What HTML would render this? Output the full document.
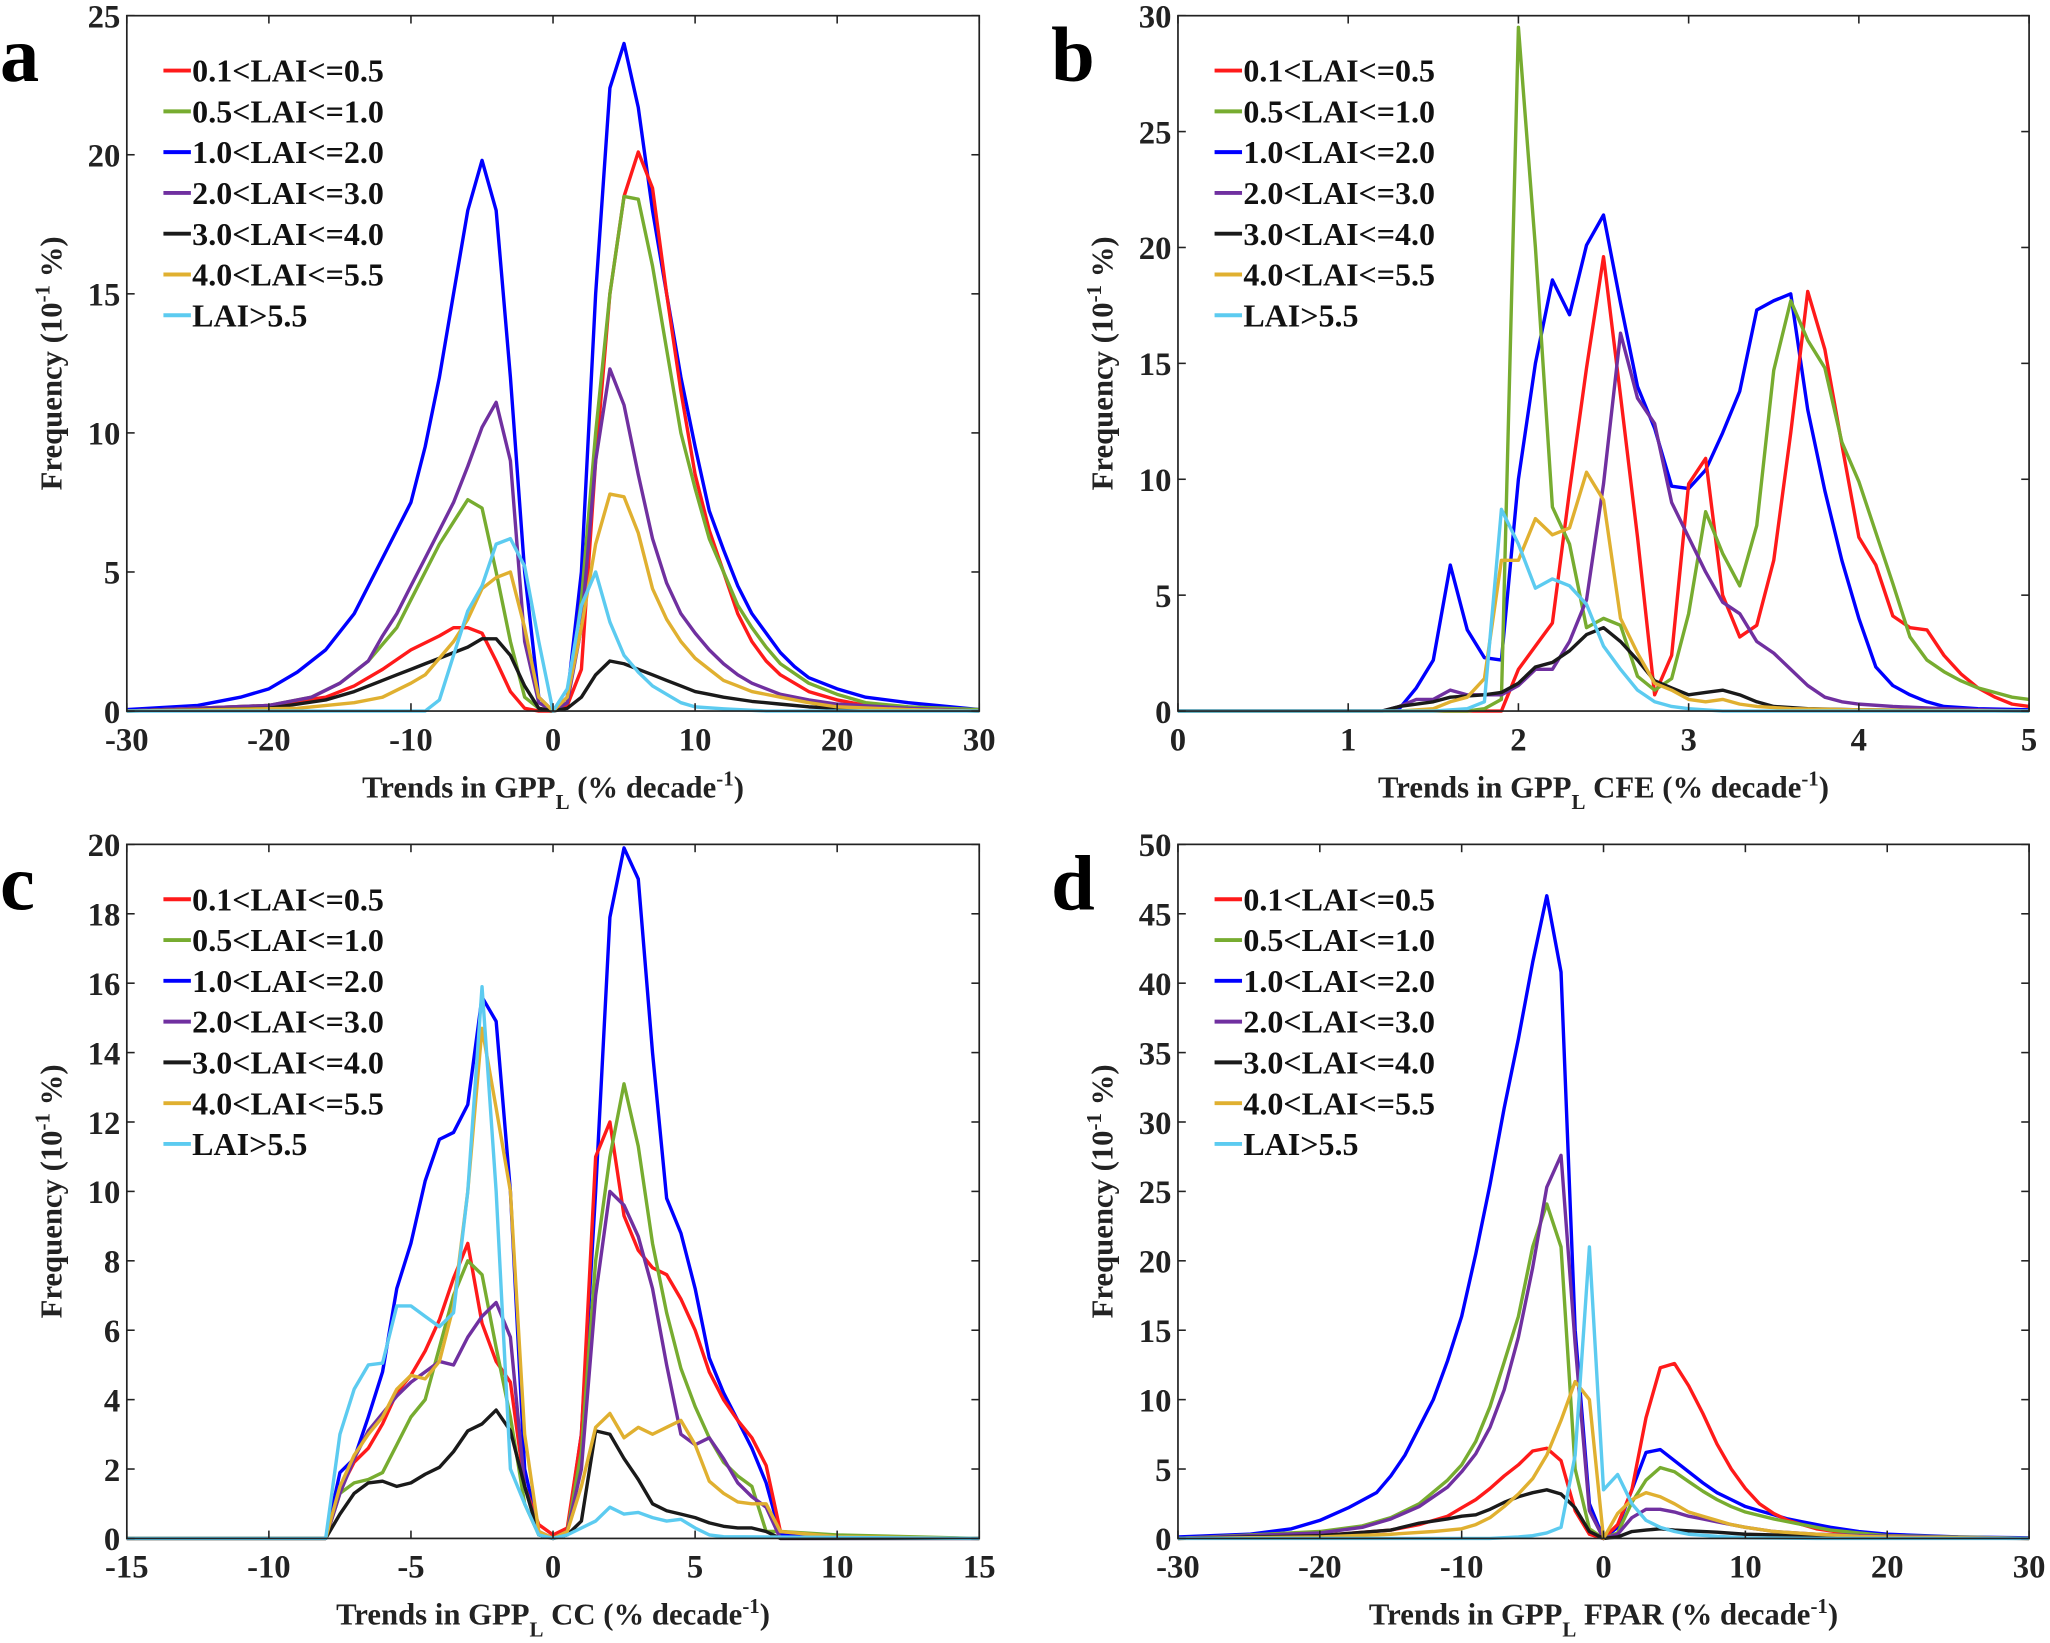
<!DOCTYPE html>
<html><head><meta charset="utf-8"><style>html,body{margin:0;padding:0;background:#fff}svg{display:block}svg text{font-family:"Liberation Serif","Times New Roman",serif;font-weight:bold}</style></head>
<body>
<svg id="s" xmlns="http://www.w3.org/2000/svg" width="2050" height="1643" viewBox="0 0 1568 1257" preserveAspectRatio="none"></svg>
<script>
const C={r:'#ff1a1a',g:'#77ac30',b:'#0000ff',p:'#7030a0',k:'#1a1a1a',o:'#e0b030',c:'#5ccbf0'};
const order=['r','g','b','p','k','o','c'];
const labels=['0.1<LAI<=0.5','0.5<LAI<=1.0','1.0<LAI<=2.0','2.0<LAI<=3.0','3.0<LAI<=4.0','4.0<LAI<=5.5','LAI>5.5'];
function P(s){return s.trim().split(/,\s*/).map(t=>t.split(':').map(Number));}
const panels=[
{L:'a',x0:97,x1:749,y0:12,y1:544,xr:[-30,30],yr:[0,25],xt:[-30,-20,-10,0,10,20,30],yt:[0,5,10,15,20,25],xl:'Trends in GPP',xs:' (% decade',
d:{b:P('-30:0.05,-25:0.2,-22:0.5,-20:0.8,-18:1.4,-16:2.2,-14:3.5,-12:5.5,-10:7.5,-9:9.5,-8:12,-7:15,-6:18,-5:19.8,-4:18,-3:12,-2:5,-1:0.5,0:0,1:0.5,2:5,3:15,4:22.4,5:24,6:21.7,7:18,8:15,9:12,10:9.5,11:7.2,12:5.8,13:4.5,14:3.5,15:2.8,16:2.1,17:1.6,18:1.2,20:0.8,22:0.5,25:0.3,30:0.05'),
r:P('-30:0,-20:0.2,-16:0.5,-14:0.9,-12:1.5,-10:2.2,-8:2.7,-7:3,-6:3,-5:2.8,-4:1.8,-3:0.7,-2:0.1,-1:0,0:0,1:0.2,2:1.5,3:9,4:15,5:18.5,6:20.1,7:18.8,8:15,9:11.5,10:8.5,11:6.5,12:5,13:3.5,14:2.5,15:1.8,16:1.3,18:0.7,20:0.4,22:0.2,25:0.1,30:0'),
g:P('-30:0,-20:0.2,-17:0.5,-15:1,-13:1.8,-11:3,-10:4,-9:5,-8:6,-7:6.8,-6:7.6,-5:7.3,-4:5,-3:2.5,-2:0.5,-1:0.1,0:0,1:0.3,2:4,3:10,4:15,5:18.5,6:18.4,7:16,8:13,9:10,10:8,11:6.2,12:5,13:3.8,14:3,15:2.3,16:1.7,18:1,20:0.6,22:0.3,25:0.15,30:0.05'),
p:P('-30:0,-20:0.2,-17:0.5,-15:1,-13:1.8,-12:2.7,-11:3.5,-10:4.5,-9:5.5,-8:6.5,-7:7.5,-6:8.8,-5:10.2,-4:11.1,-3:9,-2:2.5,-1:0.3,0:0,1:0.3,2:3,3:9,4:12.3,5:11,6:8.5,7:6.2,8:4.6,9:3.5,10:2.8,11:2.2,12:1.7,13:1.3,14:1,16:0.6,18:0.4,20:0.25,25:0.1,30:0'),
k:P('-30:0,-20:0.1,-16:0.4,-14:0.7,-12:1.1,-11:1.3,-10:1.5,-9:1.7,-8:1.9,-7:2.1,-6:2.3,-5:2.6,-4:2.6,-3:2,-2:0.9,-1:0.1,0:0,1:0.1,2:0.5,3:1.3,4:1.8,5:1.7,6:1.5,7:1.3,8:1.1,9:0.9,10:0.7,11:0.6,12:0.5,14:0.35,16:0.25,18:0.15,20:0.1,25:0.05,30:0'),
o:P('-30:0,-18:0.1,-14:0.3,-12:0.5,-10:1,-9:1.3,-8:1.9,-7:2.5,-6:3.3,-5:4.4,-4:4.8,-3:5,-2:3,-1:0.5,0:0,1:0.5,2:3,3:6,4:7.8,5:7.7,6:6.4,7:4.4,8:3.3,9:2.5,10:1.9,11:1.5,12:1.1,13:0.9,14:0.7,16:0.5,18:0.3,20:0.15,25:0.05,30:0'),
c:P('-30:0,-9:0,-8:0.4,-7:2,-6:3.6,-5:4.5,-4:6,-3:6.2,-2:5.2,-1:2.5,0:0,1:0.8,2:3.8,3:5,4:3.2,5:2,6:1.4,7:0.9,8:0.6,9:0.3,10:0.15,12:0.08,15:0,30:0')}},
{L:'b',x0:901,x1:1552,y0:12,y1:544,xr:[0,5],yr:[0,30],xt:[0,1,2,3,4,5],yt:[0,5,10,15,20,25,30],xl:'Trends in GPP',xs:' CFE (% decade',
d:{b:P('0:0,1.2:0,1.3:0.1,1.4:1,1.5:2.2,1.6:6.3,1.7:3.5,1.8:2.3,1.9:2.2,2.0:10,2.1:15,2.2:18.6,2.3:17.1,2.4:20.1,2.5:21.4,2.6:17.6,2.7:14,2.8:12.2,2.9:9.7,3.0:9.6,3.1:10.4,3.2:12,3.3:13.8,3.4:17.3,3.5:17.7,3.6:18,3.7:13,3.8:9.5,3.9:6.5,4.0:4,4.1:1.9,4.2:1.1,4.3:0.7,4.4:0.4,4.5:0.2,4.7:0.1,5:0.05'),
r:P('0:0,1.9:0,2.0:1.8,2.1:2.8,2.2:3.8,2.3:9.5,2.4:14.8,2.5:19.6,2.6:13.6,2.7:7.5,2.8:0.7,2.9:2.4,3.0:9.8,3.1:10.9,3.2:5,3.3:3.2,3.4:3.7,3.5:6.5,3.6:12,3.7:18.1,3.8:15.6,3.9:11.5,4.0:7.5,4.1:6.3,4.2:4.1,4.3:3.6,4.4:3.5,4.5:2.4,4.6:1.6,4.7:1,4.8:0.6,4.9:0.3,5:0.2'),
g:P('0:0,1.7:0,1.8:0.1,1.9:0.5,2.0:29.5,2.1:20,2.2:8.8,2.3:7.2,2.4:3.6,2.5:4,2.6:3.7,2.7:1.5,2.8:0.9,2.9:1.4,3.0:4.2,3.1:8.6,3.2:6.8,3.3:5.4,3.4:8,3.5:14.7,3.6:17.7,3.7:16,3.8:14.8,3.9:11.6,4.0:9.9,4.1:7.7,4.2:5.5,4.3:3.2,4.4:2.2,4.5:1.7,4.6:1.3,4.7:1,4.8:0.8,4.9:0.6,5:0.5'),
p:P('0:0,1.2:0,1.3:0.2,1.4:0.5,1.5:0.5,1.6:0.9,1.7:0.7,1.8:0.7,1.9:0.7,2.0:1.1,2.1:1.8,2.2:1.8,2.3:3,2.4:4.8,2.5:9.8,2.6:16.3,2.7:13.5,2.8:12.4,2.9:9,3.0:7.5,3.1:6,3.2:4.7,3.3:4.2,3.4:3,3.5:2.5,3.6:1.8,3.7:1.1,3.8:0.6,3.9:0.4,4.0:0.3,4.2:0.2,4.5:0.1,5:0'),
k:P('0:0,1.2:0,1.3:0.2,1.5:0.4,1.6:0.6,1.8:0.7,1.9:0.8,2.0:1.2,2.1:1.9,2.2:2.1,2.3:2.6,2.4:3.3,2.5:3.6,2.6:3,2.7:2.2,2.8:1.3,2.9:1,3.0:0.7,3.1:0.8,3.2:0.9,3.3:0.7,3.4:0.4,3.5:0.2,3.7:0.1,4:0.05,5:0'),
o:P('0:0,1.3:0,1.5:0.1,1.6:0.4,1.7:0.6,1.8:1.4,1.9:6.5,2.0:6.5,2.1:8.3,2.2:7.6,2.3:7.9,2.4:10.3,2.5:9.1,2.6:4,2.7:2.5,2.8:1.2,2.9:0.9,3.0:0.5,3.1:0.4,3.2:0.5,3.3:0.3,3.4:0.2,3.6:0.1,4:0.05,5:0'),
c:P('0:0,1.5:0,1.7:0.1,1.8:0.4,1.9:8.7,2.0:7.2,2.1:5.3,2.2:5.7,2.3:5.4,2.4:4.6,2.5:2.8,2.6:1.8,2.7:0.9,2.8:0.4,2.9:0.2,3.0:0.1,3.2:0,5:0')}},
{L:'c',x0:97,x1:749,y0:646,y1:1177,xr:[-15,15],yr:[0,20],xt:[-15,-10,-5,0,5,10,15],yt:[0,2,4,6,8,10,12,14,16,18,20],xl:'Trends in GPP',xs:' CC (% decade',
d:{b:P('-15:0,-8:0,-7.5:1.9,-7:2.3,-6.5:3.5,-6:4.8,-5.5:7.2,-5:8.5,-4.5:10.3,-4:11.5,-3.5:11.7,-3:12.5,-2.5:15.6,-2:14.9,-1.5:10,-1:2,-0.5:0.2,0:0,0.5:0.2,1:3,1.5:10,2:17.9,2.5:19.9,3:19,3.5:14,4:9.8,4.5:8.8,5:7.2,5.5:5.2,6:4.2,6.5:3.4,7:2.6,7.5:1.6,8:0.1,10:0.05,15:0'),
r:P('-15:0,-8:0,-7.5:1.4,-7:2.2,-6.5:2.6,-6:3.3,-5.5:4.2,-5:4.7,-4.5:5.4,-4:6.3,-3.5:7.5,-3:8.5,-2.5:6.2,-2:5.1,-1.5:4.5,-1:1.5,-0.5:0.4,0:0.1,0.5:0.3,1:3,1.5:11,2:12,2.5:9.3,3:8.3,3.5:7.8,4:7.6,4.5:6.9,5:6,5.5:4.8,6:4,6.5:3.4,7:2.9,7.5:2.1,8:0.2,10:0.05,15:0'),
g:P('-15:0,-8:0,-7.5:1.3,-7:1.6,-6.5:1.7,-6:1.9,-5.5:2.7,-5:3.5,-4.5:4,-4:5.5,-3.5:7,-3:8,-2.5:7.6,-2:5.5,-1.5:3.5,-1:1,-0.5:0.1,0:0,0.5:0.2,1:2.5,1.5:8,2:11,2.5:13.1,3:11.3,3.5:8.5,4:6.5,4.5:4.9,5:3.8,5.5:2.9,6:2.2,6.5:1.8,7:1.5,7.5:0.2,8:0.2,10:0.1,15:0'),
p:P('-15:0,-8:0,-7.5:1.3,-7:2.3,-6.5:3.1,-6:3.6,-5.5:4.1,-5:4.5,-4.5:4.8,-4:5.1,-3.5:5,-3:5.8,-2.5:6.4,-2:6.8,-1.5:5.8,-1:1.5,-0.5:0.2,0:0,0.5:0.2,1:2,1.5:7,2:10,2.5:9.6,3:8.7,3.5:7.2,4:5,4.5:3,5:2.7,5.5:2.9,6:2.3,6.5:1.6,7:1.2,7.5:0.9,8:0,15:0'),
k:P('-15:0,-8:0,-7.5:0.7,-7:1.3,-6.5:1.6,-6:1.65,-5.5:1.5,-5:1.6,-4.5:1.85,-4:2.05,-3.5:2.5,-3:3.1,-2.5:3.3,-2:3.7,-1.5:3.1,-1:1.5,-0.5:0.1,0:0,0.5:0.1,1:0.5,1.5:3.1,2:3,2.5:2.3,3:1.7,3.5:1,4:0.8,4.5:0.7,5:0.6,5.5:0.45,6:0.35,6.5:0.3,7:0.3,7.5:0.2,8:0,15:0'),
o:P('-15:0,-8:0,-7.5:1.5,-7:2.4,-6.5:3,-6:3.5,-5.5:4.3,-5:4.7,-4.5:4.6,-4:5.1,-3.5:6.7,-3:10,-2.5:14.7,-2:12.4,-1.5:10,-1:3,-0.5:0.2,0:0,0.5:0.2,1:1.5,1.5:3.2,2:3.6,2.5:2.9,3:3.2,3.5:3.0,4:3.2,4.5:3.4,5:2.7,5.5:1.65,6:1.3,6.5:1.05,7:1.0,7.5:1.0,8:0.2,10:0.05,15:0'),
c:P('-15:0,-8:0,-7.5:3,-7:4.3,-6.5:5,-6:5.05,-5.5:6.7,-5:6.7,-4.5:6.4,-4:6.1,-3.5:6.5,-3:10,-2.5:15.9,-2:10,-1.5:2,-1:1,-0.5:0.1,0:0,0.5:0.1,1:0.3,1.5:0.5,2:0.9,2.5:0.7,3:0.75,3.5:0.6,4:0.5,4.5:0.55,5:0.3,5.5:0.1,6:0.05,15:0')}},
{L:'d',x0:901,x1:1552,y0:646,y1:1177,xr:[-30,30],yr:[0,50],xt:[-30,-20,-10,0,10,20,30],yt:[0,5,10,15,20,25,30,35,40,45,50],xl:'Trends in GPP',xs:' FPAR (% decade',
d:{b:P('-30:0.1,-25:0.3,-22:0.7,-20:1.3,-18:2.2,-16:3.3,-15:4.5,-14:6,-13:8,-12:10,-11:12.8,-10:16,-9:20.5,-8:25.5,-7:31,-6:36,-5:41.5,-4:46.3,-3:40.8,-2:15,-1:2.5,0:0,1:0.8,2:3.5,3:6.2,4:6.4,5:5.6,6:4.8,7:4,8:3.3,9:2.8,10:2.3,11:2,12:1.7,13:1.4,14:1.2,15:1,16:0.8,18:0.5,20:0.3,25:0.1,30:0.05'),
g:P('-30:0,-20:0.5,-17:0.9,-15:1.5,-13:2.5,-11:4.2,-10:5.3,-9:7,-8:9.5,-7:12.7,-6:16,-5:21,-4:24.1,-3:21,-2:5,-1:0.7,0:0,1:0.4,2:2.6,3:4.2,4:5.1,5:4.8,6:4.1,7:3.4,8:2.8,9:2.3,10:1.9,12:1.4,14:1,16:0.6,18:0.4,20:0.2,25:0.1,30:0'),
p:P('-30:0,-20:0.4,-17:0.8,-15:1.4,-13:2.3,-11:3.7,-10:4.8,-9:6.1,-8:8,-7:10.7,-6:14.5,-5:19.5,-4:25.3,-3:27.6,-2:14,-1:2,0:0,1:0.3,2:1.5,3:2.1,4:2.1,5:1.9,6:1.6,7:1.4,8:1.2,10:0.8,12:0.5,15:0.3,20:0.15,30:0'),
r:P('-30:0,-20:0.2,-15:0.6,-13:1,-11:1.6,-10:2.2,-9:2.8,-8:3.6,-7:4.5,-6:5.3,-5:6.3,-4:6.5,-3:5.6,-2:2,-1:0.3,0:0,1:1,2:3.5,3:8.7,4:12.3,5:12.6,6:11,7:9,8:6.8,9:5,10:3.6,11:2.5,12:1.8,13:1.3,14:1,15:0.7,17:0.4,20:0.2,25:0.05,30:0'),
k:P('-30:0,-20:0.2,-15:0.6,-13:1.1,-11:1.4,-10:1.6,-9:1.7,-8:2.1,-7:2.6,-6:3,-5:3.3,-4:3.5,-3:3.2,-2:2.2,-1:0.5,0:0,1:0.1,2:0.5,3:0.6,4:0.7,5:0.6,6:0.55,8:0.45,10:0.3,12:0.25,15:0.15,20:0.05,30:0'),
o:P('-30:0,-20:0.1,-15:0.3,-12:0.5,-10:0.7,-9:1,-8:1.5,-7:2.3,-6:3.2,-5:4.3,-4:6,-3:8.5,-2:11.3,-1:10,0:0,1:1.8,2:2.8,3:3.3,4:3,5:2.5,6:1.9,7:1.6,8:1.3,9:1,10:0.8,12:0.5,15:0.3,18:0.15,20:0.1,30:0'),
c:P('-30:0,-8:0,-6:0.1,-5:0.2,-4:0.4,-3:0.8,-2:6,-1:21,0:3.5,1:4.6,2:2.5,3:1.3,4:0.8,5:0.5,6:0.3,8:0.15,10:0.05,15:0,30:0')}}
];
let h='';
for(const p of panels){
 const X=v=>p.x0+(v-p.xr[0])/(p.xr[1]-p.xr[0])*(p.x1-p.x0);
 const Y=v=>p.y1-(v-p.yr[0])/(p.yr[1]-p.yr[0])*(p.y1-p.y0);
 for(const k of ['b','r','g','p','k','o','c']){
  const pts=p.d[k].map(([x,y])=>X(x).toFixed(1)+','+Y(y).toFixed(1)).join(' ');
  h+=`<polyline points="${pts}" fill="none" stroke="${C[k]}" stroke-width="2.6" stroke-linejoin="round"/>`;
 }
 h+=`<rect x="${p.x0}" y="${p.y0}" width="${p.x1-p.x0}" height="${p.y1-p.y0}" fill="none" stroke="#222" stroke-width="1.3"/>`;
 for(const t of p.xt){const x=X(t);
  h+=`<line x1="${x}" y1="${p.y1}" x2="${x}" y2="${p.y1-6}" stroke="#222" stroke-width="1.2"/><line x1="${x}" y1="${p.y0}" x2="${x}" y2="${p.y0+6}" stroke="#222" stroke-width="1.2"/>`;
  h+=`<text x="${x}" y="${p.y1+30}" font-size="25" text-anchor="middle" fill="#222">${t}</text>`;}
 for(const t of p.yt){const y=Y(t);
  h+=`<line x1="${p.x0}" y1="${y}" x2="${p.x0+6}" y2="${y}" stroke="#222" stroke-width="1.2"/><line x1="${p.x1}" y1="${y}" x2="${p.x1-6}" y2="${y}" stroke="#222" stroke-width="1.2"/>`;
  h+=`<text x="${p.x0-5}" y="${y+9}" font-size="25" text-anchor="end" fill="#222">${t}</text>`;}
 const cx=(p.x0+p.x1)/2;
 h+=`<text x="${cx}" y="${p.y1+66}" font-size="23.5" text-anchor="middle" fill="#222">${p.xl}<tspan font-size="16" dy="9">L</tspan><tspan dy="-9">${p.xs}</tspan><tspan font-size="16" dy="-9">-1</tspan><tspan dy="9">)</tspan></text>`;
 const ly=(p.y0+p.y1)/2, lx=p.x0-50;
 h+=`<text transform="translate(${lx},${ly}) rotate(-90)" font-size="23.5" text-anchor="middle" fill="#222">Frequency (10<tspan font-size="16" dy="-9">-1</tspan><tspan dy="9"> %)</tspan></text>`;
 h+=`<text x="${p.x0-97}" y="${p.y0+50}" font-size="60" fill="#000">${p.L}</text>`;
 order.forEach((k,i)=>{const y=p.y0+42+i*31.2;
  h+=`<line x1="${p.x0+28}" y1="${y}" x2="${p.x0+49}" y2="${y}" stroke="${C[k]}" stroke-width="3"/>`;
  h+=`<text x="${p.x0+50}" y="${y+8.5}" font-size="24.5" fill="#111">${labels[i].replace(/</g,'&lt;').replace(/>/g,'&gt;')}</text>`;});
}
document.getElementById('s').innerHTML=h;
</script>
</body></html>
